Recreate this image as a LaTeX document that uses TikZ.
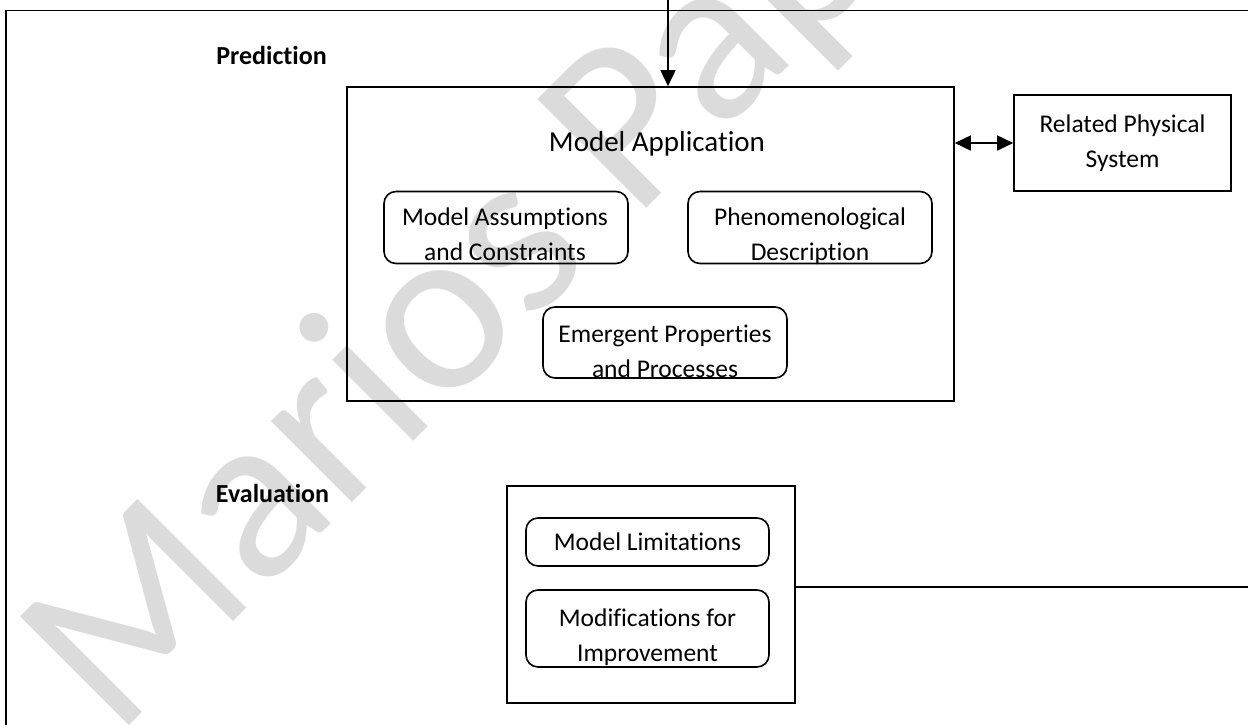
\documentclass[tikz,border=0pt]{standalone}
\usepackage{fontspec}
\setmainfont{Carlito}[Ligatures=NoCommon]
\usetikzlibrary{arrows.meta,positioning}

\begin{document}
\begin{tikzpicture}[>={Triangle[length=16pt,width=15pt]},x=1pt,y=-1pt,line width=1.6pt]
\tikzstyle{box}=[draw,inner sep=0pt]
\tikzstyle{pane}=[draw,rounded corners=12pt,inner sep=0pt]
\tikzstyle{txt}=[font=\fontsize{25.5}{35}\selectfont,align=center,inner sep=0pt]
\tikzstyle{phase}=[font=\fontsize{26}{30}\selectfont\bfseries,inner sep=0pt,anchor=base]

\useasboundingbox (0,0) rectangle (1248,725);
\clip (0,0) rectangle (1248,725);

% watermark
\node[black!14,font=\fontsize{240}{250}\selectfont,rotate=45,anchor=base west,inner sep=0pt] (WM) at (115,740) {Marios Papa};

\draw (6,10.5) rectangle (1280,760);

\node[phase] (PR) at (271.5,65) {Prediction};
\node[phase] (EL) at (272.5,502) {Evaluation};

\node[box,minimum width=607pt,minimum height=314pt] (MA) at (650.5,244) {};
\node[font=\fontsize{29}{35}\selectfont,anchor=base,inner sep=0pt] (MT) at (657,151) {Model Application};
\node[pane,minimum width=244pt,minimum height=72pt] (AC) at (506,227.5) {};
\node[pane,minimum width=244pt,minimum height=72pt] (PD) at (810,227.5) {};
\node[pane,minimum width=244pt,minimum height=71pt] (EP) at (665,342.5) {};
\node[txt] (ACt) at (505,234) {Model Assumptions\\and Constraints};
\node[txt] (PDt) at (810,236.5) {Phenomenological\\Description};
\begin{scope}
\clip[rounded corners=12pt] (EP.south west) rectangle (EP.north east);
\node[txt] (EPt) at (665,351.5) {Emergent Properties\\and Processes};
\end{scope}

\node[box,minimum width=217pt,minimum height=96pt] (RP) at (1122.5,143) {};
\node[txt] (RPt) at (1122.5,143.5) {Related Physical\\System};

\node[box,minimum width=288pt,minimum height=217pt] (EV) at (651,594.5) {};
\node[pane,txt,minimum width=243pt,minimum height=48pt] (ML) at (647.5,542) {Model Limitations};
\node[pane,minimum width=243pt,minimum height=77pt] (MI) at (647.5,628.5) {};
\begin{scope}
\clip[rounded corners=12pt] (MI.south west) rectangle (MI.north east);
\node[txt] (MIt) at (647.5,637.5) {Modifications for\\Improvement};
\end{scope}

\coordinate (IN) at (668,-5);
\coordinate (OUT) at (1260,587);
\draw[->] (IN) -- (IN |- MA.north);
\draw[<->] (RP.west -| MA.east) -- (RP.west);
\draw (EV.east |- OUT) -- (OUT);
\end{tikzpicture}
\end{document}
